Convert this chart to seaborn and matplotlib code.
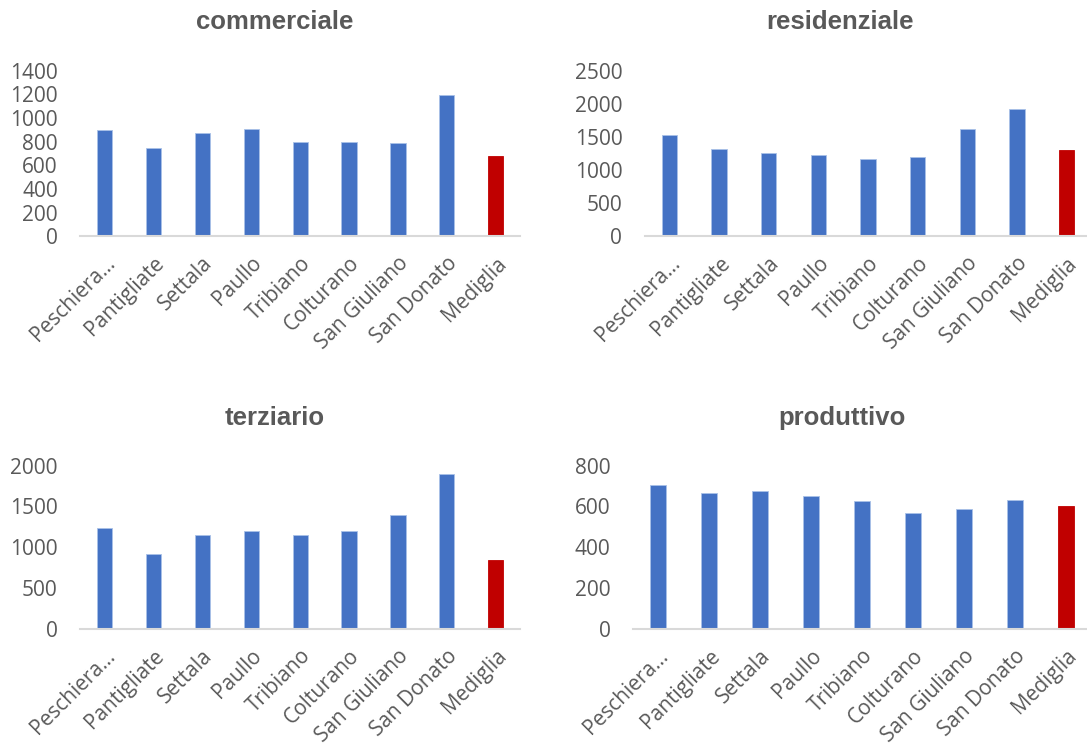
import matplotlib
matplotlib.use('Agg')
import matplotlib.pyplot as plt
import seaborn as sns

comuni = ['Peschiera…', 'Pantigliate', 'Settala', 'Paullo', 'Tribiano',
          'Colturano', 'San Giuliano', 'San Donato', 'Mediglia']

commerciale = [900, 745, 870, 910, 800, 800, 790, 1195, 675]
residenziale = [1535, 1320, 1260, 1220, 1160, 1190, 1625, 1920, 1295]
terziario = [1240, 920, 1145, 1195, 1145, 1195, 1390, 1900, 840]
produttivo = [703, 667, 674, 649, 625, 570, 587, 631, 602]

titoli = ['commerciale', 'residenziale', 'terziario', 'produttivo']
ylims = [1400, 2500, 2000, 800]
ysteps = [200, 500, 500, 200]

blu = '#4472C4'
rosso = '#C00000'
grigio = '#595959'

sns.set_theme(style='white')
plt.rcParams['font.family'] = ['Open Sans', 'DejaVu Sans']

fig = plt.figure(figsize=(10.87, 7.45), dpi=100)
# axes positions [left, bottom, width, height]
pos = [[0.0736, 0.683, 0.405, 0.222],
       [0.593, 0.683, 0.411, 0.222],
       [0.0736, 0.156, 0.405, 0.219],
       [0.582, 0.156, 0.422, 0.219]]
# title centres in figure fraction
tpos = [(0.253, 0.970), (0.773, 0.970), (0.253, 0.439), (0.775, 0.439)]

serie = [commerciale, residenziale, terziario, produttivo]
palette = [blu] * (len(comuni) - 1) + [rosso]

for p, vals, tit, ym, st, tp in zip(pos, serie, titoli, ylims, ysteps, tpos):
    ax = fig.add_axes(p)
    sns.barplot(x=comuni, y=vals, hue=comuni, palette=palette, legend=False,
                saturation=1, width=0.31, edgecolor='#A9C1E8', linewidth=0.6, ax=ax)
    ax.patches[-1].set_edgecolor(rosso)
    ax.set_ylim(0, ym)
    ax.set_xlim(-0.5, len(comuni) - 0.5)
    ax.set_yticks(range(0, ym + 1, st))
    ax.set_xlabel('')
    ax.set_ylabel('')
    for s in ['top', 'right', 'left']:
        ax.spines[s].set_visible(False)
    ax.spines['bottom'].set_color('#D9D9D9')
    ax.spines['bottom'].set_linewidth(1.5)
    ax.tick_params(axis='both', length=0, labelsize=15, labelcolor=grigio)
    ax.tick_params(axis='y', pad=16)
    ax.tick_params(axis='x', pad=12)
    plt.setp(ax.get_xticklabels(), rotation=45, ha='right', rotation_mode='anchor')
    ax.grid(False)
    fig.text(tp[0], tp[1], tit, ha='center', va='center', fontsize=18.5,
             fontweight='bold', color=grigio, family='Liberation Sans')

fig.savefig('out.png', dpi=100)
